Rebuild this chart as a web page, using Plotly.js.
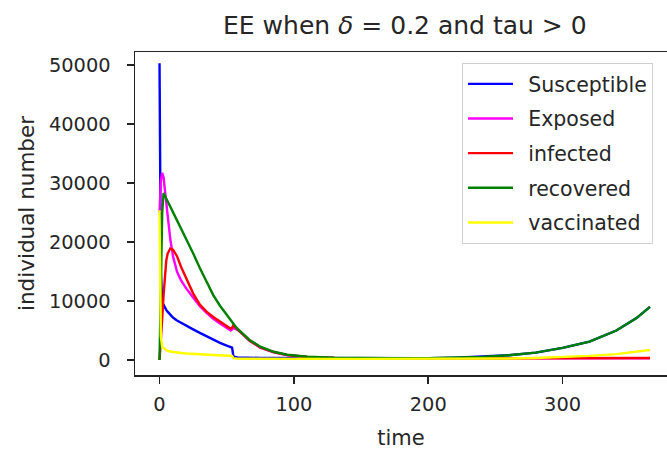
<!DOCTYPE html>
<html>
<head>
<meta charset="utf-8">
<script src="https://cdn.plot.ly/plotly-3.0.1.min.js"></script>
<style>html,body{margin:0;padding:0;background:#fff;}</style>
</head>
<body>
<div id="chart" style="width:667px;height:450px;"></div>
<script>
const time = [0,1,2,3,4,5,6,8,10,13,16,20,25,30,35,40,45,50,52,53,54,55,56,58,62,67,75,85,95,110,130,150,175,200,220,240,260,280,300,320,340,355,365];

const susceptible = [50300,15000,9800,9300,8900,8500,8200,7700,7200,6700,6300,5800,5200,4600,4000,3400,2900,2450,2300,2200,2100,600,500,450,400,380,350,330,320,300,300,290,290,300,400,540,800,1250,2050,3100,5000,7100,9000];

const exposed = [25000,30500,31700,31000,28800,26500,24300,20500,17600,15000,13500,12100,10600,9100,8000,7000,6200,5400,5100,5000,5200,5500,5300,5150,4350,3250,2100,1300,820,500,350,300,290,290,290,290,290,290,290,290,300,300,300];

const infected = [0,3000,7000,11000,14500,16800,18000,18900,18700,17600,15800,13700,11300,9400,8200,7300,6500,5700,5400,5300,5500,5900,5700,5200,4400,3300,2150,1350,850,520,360,320,300,300,300,300,300,300,300,310,320,330,330];

const recovered = [0,12000,25000,28300,27900,27400,26900,26000,25100,23700,22300,20500,18100,15600,13200,11000,9200,7600,7050,6750,6450,6150,5850,5300,4500,3400,2250,1400,900,550,380,320,300,320,400,540,800,1250,2050,3100,5000,7100,9000];

const vaccinated = [25400,4000,2200,2000,1800,1650,1550,1450,1350,1250,1180,1100,1030,960,900,830,770,720,700,690,680,300,250,230,220,210,200,200,200,200,200,200,200,200,210,220,250,350,500,700,1000,1350,1700];

const seriesNames = ["Susceptible","Exposed","infected","recovered","vaccinated"];
const seriesColors = ["#0000ff","#ff00ff","#ff0000","#008000","#ffff00"];
const seriesValues = [susceptible, exposed, infected, recovered, vaccinated];

const xTicks = [0,100,200,300];
const yTicks = [0,10000,20000,30000,40000,50000];
const yTickText = ["0","10000","20000","30000","40000","50000"];

const FONT = "DejaVu Sans, sans-serif";
const TXT = "#262626";

const traces = seriesNames.map((n,i)=>({
  x: time, y: seriesValues[i], name: "\u2002" + n, type: "scatter", mode: "lines",
  line: {color: seriesColors[i], width: 2.4},
  legendgroup: "g"+i
}));

const axisCommon = {
  showgrid:false, zeroline:false, showline:true, linecolor:"#222", linewidth:1.5,
  ticks:"outside", ticklen:7, tickwidth:1.5, tickcolor:"#222",
  tickfont:{family:FONT, size:19.4, color:TXT}
};

const layout = {
  width:667, height:450,
  margin:{l:135, r:0, t:52, b:75, pad:0},
  paper_bgcolor:"#fff", plot_bgcolor:"#fff",
  font:{family:FONT, color:TXT},
  title:{text:"EE when <i>δ</i> = 0.2 and tau &gt; 0", font:{family:FONT, size:25, color:TXT},
         xref:"container", x:0.607, xanchor:"center", yref:"container", y:1-25/450, yanchor:"middle"},
  xaxis:Object.assign({}, axisCommon, {range:[-18.25,377.7], tickvals:xTicks, mirror:true,
         ticklabelstandoff:4,
         title:{text:"time", font:{family:FONT, size:21, color:TXT}, standoff:20}}),
  yaxis:Object.assign({}, axisCommon, {range:[-2540,52200], tickvals:yTicks, ticktext:yTickText, mirror:false,
         ticklabelstandoff:12,
         title:{text:"individual number", font:{family:FONT, size:21.5, color:TXT}, standoff:8}}),
  showlegend:true,
  legend:{x:(462-135)/532, y:(375-63)/323, xanchor:"left", yanchor:"top",
          bgcolor:"rgba(255,255,255,0.8)", bordercolor:"#d0d0d0", borderwidth:1,
          font:{family:FONT, size:20.5, color:TXT}, itemwidth:45, tracegroupgap:5}
};

Plotly.newPlot("chart", traces, layout, {displayModeBar:false, staticPlot:true});
</script>
</body>
</html>
